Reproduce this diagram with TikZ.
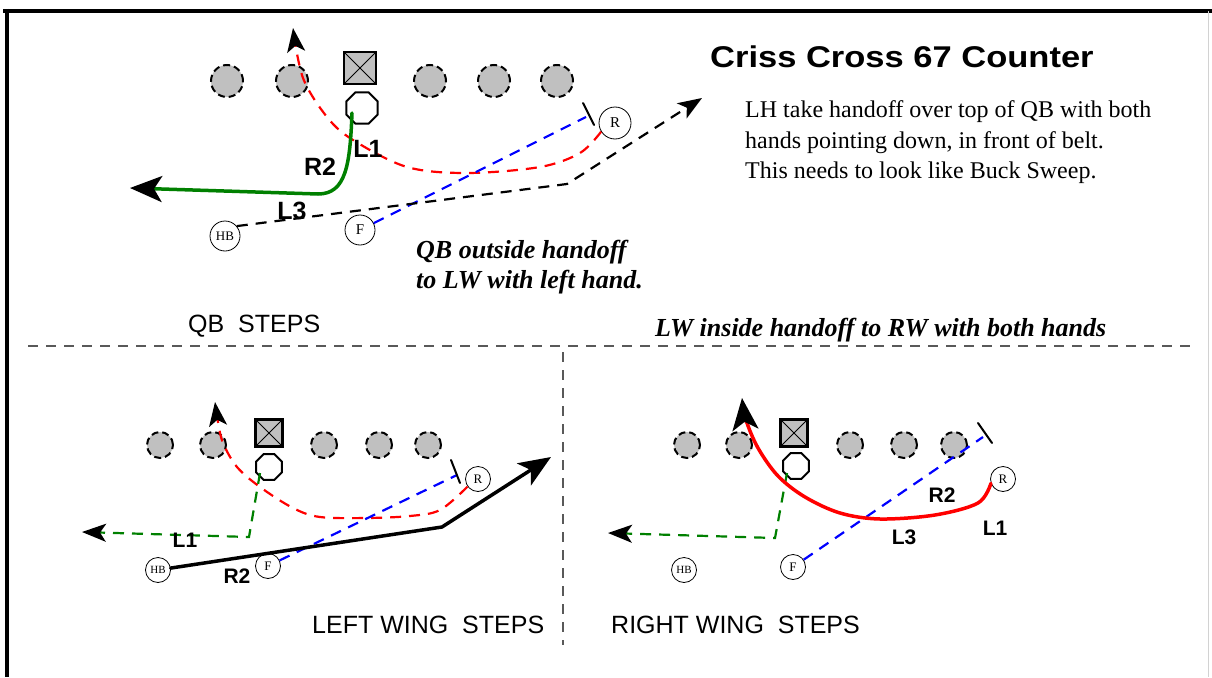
\documentclass[tikz,border=0pt]{standalone}
\usepackage{fontspec}
\setmainfont{Liberation Serif}
\newfontfamily\sansfont{Liberation Sans}
\usetikzlibrary{arrows.meta,shapes.geometric}
\definecolor{linegray}{HTML}{C0C0C0}
\definecolor{routered}{HTML}{FF0000}
\definecolor{routeblue}{HTML}{0000FF}
\definecolor{routegreen}{HTML}{008000}
\tikzset{
  lineman/.style={circle, draw=black, fill=linegray, line width=2pt,
    dash pattern=on 7pt off 4pt, minimum size=#1, inner sep=0pt},
  ctrbox/.style={rectangle, draw=black, fill=linegray, line width=2.5pt,
    minimum size=#1, inner sep=0pt,
    path picture={\draw[line width=1pt]
      (path picture bounding box.north west) -- (path picture bounding box.south east)
      (path picture bounding box.north east) -- (path picture bounding box.south west);}},
  qbox/.style={regular polygon, regular polygon sides=8, draw=black, fill=white,
    line width=2pt, minimum size=#1, inner sep=0pt},
  backfield/.style={circle, draw=black, fill=white, line width=0.8pt,
    minimum size=#1, inner sep=0pt},
  routedash/.style={line width=2.2pt, dash pattern=on 11pt off 8pt},
  routesolid/.style={line width=3.5pt, line cap=round, line join=round},
  tipbig/.style={-{Stealth[length=32pt,width=26pt,inset=8pt,color=black]}},
  tipsmall/.style={-{Stealth[length=24pt,width=18pt,inset=6pt,color=black]}},
  steplabel/.style={font=\sansfont\bfseries\fontsize{#1}{#1}\selectfont, inner sep=0pt},
  caption/.style={font=\sansfont\fontsize{25}{25}\selectfont, anchor=base west, inner sep=0pt},
  note/.style={font=\bfseries\itshape\fontsize{26}{30}\selectfont, anchor=base west, inner sep=0pt},
  plain/.style={font=\fontsize{24}{24}\selectfont, anchor=base west, inner sep=0pt},
  blocker/.style={line width=2pt, line cap=round},
  divider/.style={gray!70!black, line width=1.5pt, dash pattern=on 10pt off 8pt},
}
\begin{document}
\begin{tikzpicture}[x=1pt,y=-1pt]
\useasboundingbox (0,0) rectangle (1212,677);
% outer frame
\draw[line width=4pt] (3,11) -- (1212,11);
\draw[line width=3.5pt] (7,9) -- (7,677);
\draw[gray!35, line width=1pt] (1208,11) -- (1208,677);

% section dividers
\draw[divider] (28,346) -- (1195,346);
\draw[divider] (563,352) -- (563,645);

%================ QB steps =================
\foreach \x/\n in {227/qa1,292/qa2,430/qa3,494/qa4,557/qa5}
  \node[lineman=32pt] (\n) at (\x,81) {};
\node[ctrbox=32pt] (C1) at (360,68) {};
\node[qbox=34pt] (QB1) at (362,108) {};
\node[backfield=30pt, font=\fontsize{13}{13}\selectfont] (HB1) at (225,236) {HB};
\node[backfield=30pt, font=\fontsize{15}{15}\selectfont] (F1) at (360,230) {F};
\node[backfield=32pt, font=\fontsize{15}{15}\selectfont] (R1) at (615,123) {R};

% red dashed route
\draw[routered, routedash, tipsmall] plot[smooth, tension=0.55] coordinates
  {(R1.212) (580,153) (540,167) (467,173) (407,167) (353,140) (327,117) (303,78) (293,28)};
% blue dashed block
\coordinate (bA) at (586,117);
\coordinate (bAu) at (583,103);
\coordinate (bAd) at (594,125);
\draw[routeblue, routedash] (F1) -- (bA);
\draw[blocker] (bAu) -- (bAd);
% black dashed route
\coordinate (kA) at (567,184);
\coordinate (kB) at (702,98);
\draw[black, routedash, tipsmall] (HB1.40) -- (kA) -- (kB);
% green solid route
\coordinate (gA) at (130,188);
\draw[routegreen, routesolid, tipbig] ([shift={(-10,5)}]QB1.center)
  .. controls (350,165) and (346,194) .. (318,194) -- (gA);

\node[steplabel=25] (qL1) at (368,149) {L1};
\node[steplabel=25] (qR2) at (320,167) {R2};
\node[steplabel=25] (qL3) at (292,211) {L3};

% title and notes
\node[font=\sansfont\bfseries\fontsize{30}{30}\selectfont, anchor=base west, inner sep=0pt]
  (title) at (710,67) {\scalebox{1.15}[1]{Criss Cross 67 Counter}};
\node[plain] (n1) at (745,117) {LH take handoff over top of QB with both};
\node[plain] (n2) at (745,148) {hands pointing down, in front of belt.};
\node[plain] (n3) at (745,178) {This needs to look like Buck Sweep.};
\node[note] (h1) at (416,258) {QB outside handoff};
\node[note] (h2) at (416,288) {to LW with left hand.};
\node[note] (h3) at (655,336) {LW inside handoff to RW with both hands};
\node[caption] (cap1) at (188,332) {QB\ \ STEPS};

%================ Left wing steps =================
\foreach \x/\n in {160/la1,213/la2,324/la3,379/la4,428/la5}
  \node[lineman=26pt] (\n) at (\x,445) {};
\node[ctrbox=27pt] (C2) at (269,433) {};
\node[qbox=28pt] (QB2) at (269,467) {};
\node[backfield=25pt, font=\fontsize{11}{11}\selectfont] (HB2) at (158,570) {HB};
\node[backfield=25pt, font=\fontsize{13}{13}\selectfont] (F2) at (268,566) {F};
\node[backfield=25pt, font=\fontsize{13}{13}\selectfont] (R2n) at (478,479) {R};

\draw[routered, routedash, tipsmall] plot[smooth, tension=0.55] coordinates
  {(R2n.216) (440,510) (410,516) (367,518) (320,517) (293,508) (260,487) (237,467) (223,443) (218,422) (215,402)};
\coordinate (bB) at (457,475);
\coordinate (bBu) at (451,460);
\coordinate (bBd) at (460,483);
\draw[routeblue, routedash] (F2) -- (bB);
\draw[blocker] (bBu) -- (bBd);
\coordinate (gB1) at (249,537);
\coordinate (gB2) at (82,532);
\draw[routegreen, routedash, tipsmall] ([shift={(-9,6)}]QB2.center) -- (gB1) -- (gB2);
\coordinate (kC) at (442,527);
\coordinate (kD) at (551,457);
\draw[black, routesolid, tipbig] (HB2) -- (kC) -- (kD);

\node[steplabel=21] (lL1) at (185,540) {L1};
\node[steplabel=21] (lR2) at (237,576) {R2};
\node[caption] (cap2) at (312,633) {LEFT WING\ \ STEPS};

%================ Right wing steps =================
\foreach \x/\n in {687/ra1,739/ra2,850/ra3,904/ra4,954/ra5}
  \node[lineman=26pt] (\n) at (\x,445) {};
\node[ctrbox=27pt] (C3) at (794,433) {};
\node[qbox=28pt] (QB3) at (796,466) {};
\node[backfield=25pt, font=\fontsize{11}{11}\selectfont] (HB3) at (684,570) {HB};
\node[backfield=25pt, font=\fontsize{13}{13}\selectfont] (F3) at (793,567) {F};
\node[backfield=25pt, font=\fontsize{13}{13}\selectfont] (R3) at (1003,479) {R};

\coordinate (bC) at (983,437);
\coordinate (bCu) at (978,423);
\coordinate (bCd) at (992,443);
\draw[routeblue, routedash] (F3) -- (bC);
\draw[blocker] (bCu) -- (bCd);
\coordinate (gC1) at (775,538);
\coordinate (gC2) at (608,533);
\draw[routegreen, routedash, tipsmall] ([shift={(-9,7)}]QB3.center) -- (gC1) -- (gC2);
\draw[routered, routesolid, tipbig] plot[smooth, tension=0.55] coordinates
  {(R3.200) (978,503) (935,515) (880,519) (840,513) (805,497) (778,476) (758,448) (746,420) (742,398)};

\node[steplabel=21] (rR2) at (942,495) {R2};
\node[steplabel=21] (rL3) at (904,537) {L3};
\node[steplabel=21] (rL1) at (995,528) {L1};
\node[caption] (cap3) at (611,633) {RIGHT WING\ \ STEPS};
\end{tikzpicture}
\end{document}
